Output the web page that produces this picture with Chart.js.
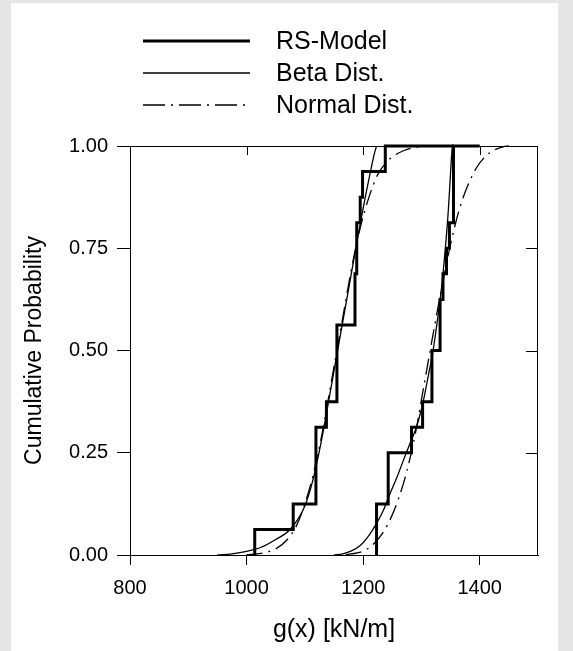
<!DOCTYPE html>
<html>
<head>
<meta charset="utf-8">
<script src="https://cdn.jsdelivr.net/npm/chart.js@4.4.0/dist/chart.umd.min.js"></script>
<style>
  html, body { margin: 0; padding: 0; background: #e6e6e6; }
  .panel { position: absolute; left: 11px; top: 3px; width: 547px; height: 648px; background: #fff; }
  #chart { position: absolute; left: 0; top: 0; }
</style>
</head>
<body>
<div class="panel"></div>
<canvas id="chart" width="573" height="651"></canvas>
<script>
var xTicks = [800, 1000, 1200, 1400];
var yTicks = [0, 0.25, 0.5, 0.75, 1];

// RS-Model empirical CDFs (16 samples each), value after each jump
var rsLeftX = [1014, 1014, 1080, 1119, 1137, 1155, 1186, 1189, 1195, 1199, 1238, 1355];
var rsLeftP = [0, 0.0625, 0.125, 0.3125, 0.375, 0.5625, 0.6875, 0.8125, 0.875, 0.9375, 1, 1];
var rsRightX = [1223, 1223, 1243, 1283, 1302, 1318, 1332, 1337, 1343, 1348, 1355, 1400];
var rsRightP = [0, 0.125, 0.25, 0.3125, 0.375, 0.5, 0.625, 0.6875, 0.75, 0.8125, 1, 1];

// Beta fits
var betaLeftX = [950, 975, 1000, 1025, 1050, 1075, 1100, 1115, 1125, 1135, 1145, 1155, 1165, 1175, 1185, 1195, 1205, 1213, 1219, 1223];
var betaLeftP = [0, 0.003, 0.009, 0.019, 0.038, 0.063, 0.12, 0.19, 0.255, 0.33, 0.41, 0.49, 0.57, 0.65, 0.73, 0.81, 0.885, 0.94, 0.98, 1];
var betaRightX = [1150, 1165, 1180, 1195, 1210, 1222, 1235, 1246, 1258, 1270, 1281, 1292, 1303, 1312, 1320, 1328, 1335, 1341, 1346, 1349, 1351, 1353];
var betaRightP = [0, 0.003, 0.01, 0.023, 0.048, 0.075, 0.11, 0.15, 0.19, 0.235, 0.275, 0.315, 0.375, 0.44, 0.5, 0.58, 0.66, 0.75, 0.84, 0.91, 0.96, 1];

// Normal fits
var normLeftX = [1000, 1025, 1050, 1070, 1085, 1100, 1115, 1130, 1145, 1155, 1165, 1180, 1195, 1210, 1225, 1240, 1255, 1270, 1290, 1310];
var normLeftP = [0.001, 0.004, 0.015, 0.038, 0.07, 0.125, 0.2, 0.3, 0.42, 0.5, 0.58, 0.7, 0.8, 0.875, 0.93, 0.96, 0.978, 0.989, 0.997, 1];
var normRightX = [1170, 1190, 1205, 1220, 1235, 1248, 1260, 1275, 1290, 1305, 1320, 1335, 1350, 1365, 1380, 1395, 1410, 1425, 1440, 1450];
var normRightP = [0.001, 0.005, 0.013, 0.03, 0.057, 0.092, 0.135, 0.205, 0.30, 0.42, 0.54, 0.655, 0.76, 0.845, 0.905, 0.948, 0.975, 0.99, 0.998, 1];

var FONT = "'Liberation Sans', Arial, sans-serif";
var dashDot = [16, 6, 2, 6];

function pts(xs, ps) {
  return xs.map(function (x, i) { return { x: x, y: ps[i] }; });
}

function rsSet(xs, ps) {
  return { data: pts(xs, ps), borderColor: '#000', borderWidth: 3, stepped: true, pointRadius: 0, clip: false };
}
function betaSet(xs, ps) {
  return { data: pts(xs, ps), borderColor: '#000', borderWidth: 1.3, cubicInterpolationMode: 'monotone', pointRadius: 0, clip: false };
}
function normSet(xs, ps) {
  return { data: pts(xs, ps), borderColor: '#000', borderWidth: 1.3, borderDash: dashDot, cubicInterpolationMode: 'monotone', pointRadius: 0, clip: false };
}

var legendItems = [
  { label: 'RS-Model', width: 3, dash: [] },
  { label: 'Beta Dist.', width: 1.3, dash: [] },
  { label: 'Normal Dist.', width: 1.3, dash: [22, 6, 2, 6] }
];

var framePlugin = {
  id: 'frame',
  beforeDatasetsDraw: function (chart) {
    var ctx = chart.ctx, a = chart.chartArea;
    var xs = chart.scales.x, ys = chart.scales.y;
    ctx.save();
    ctx.strokeStyle = '#000';
    ctx.lineWidth = 1;
    ctx.beginPath();
    ctx.moveTo(a.left, a.top + 0.5);
    ctx.lineTo(a.right, a.top + 0.5);
    ctx.moveTo(a.right - 0.5, a.top);
    ctx.lineTo(a.right - 0.5, a.bottom);
    xTicks.forEach(function (v) {
      var px = Math.round(xs.getPixelForValue(v)) + 0.5;
      ctx.moveTo(px, a.top);
      ctx.lineTo(px, a.top + 9);
    });
    yTicks.forEach(function (v) {
      var py = Math.round(ys.getPixelForValue(v)) + 0.5;
      ctx.moveTo(a.right, py);
      ctx.lineTo(a.right - 12, py);
    });
    ctx.stroke();
    ctx.restore();
  },
  afterDraw: function (chart) {
    var ctx = chart.ctx;
    ctx.save();
    ctx.strokeStyle = '#000';
    ctx.fillStyle = '#000';
    ctx.font = '25px ' + FONT;
    ctx.textBaseline = 'middle';
    legendItems.forEach(function (it, i) {
      var y = 41 + i * 32;
      ctx.lineWidth = it.width;
      ctx.setLineDash(it.dash);
      ctx.beginPath();
      ctx.moveTo(143, y);
      ctx.lineTo(250, y);
      ctx.stroke();
      ctx.fillText(it.label, 276, y + 1);
    });
    ctx.restore();
  }
};

new Chart(document.getElementById('chart'), {
  type: 'scatter',
  data: {
    datasets: [
      rsSet(rsLeftX, rsLeftP), rsSet(rsRightX, rsRightP),
      betaSet(betaLeftX, betaLeftP), betaSet(betaRightX, betaRightP),
      normSet(normLeftX, normLeftP), normSet(normRightX, normRightP)
    ].map(function (d) { d.showLine = true; return d; })
  },
  options: {
    responsive: false,
    animation: false,
    devicePixelRatio: 1,
    layout: { padding: { left: 12, top: 146, right: 35, bottom: 0 } },
    plugins: { legend: { display: false }, tooltip: { enabled: false } },
    scales: {
      x: {
        type: 'linear', min: 800, max: 1500,
        afterBuildTicks: function (s) { s.ticks = xTicks.map(function (v) { return { value: v }; }); },
        afterFit: function (s) { s.height = 96; },
        grid: { drawOnChartArea: false, color: '#000', tickLength: 10, tickWidth: 1 },
        border: { color: '#000', width: 1 },
        ticks: { color: '#000', padding: 11, maxRotation: 0, font: { family: FONT, size: 20 },
          callback: function (v) { return String(v); } },
        title: { display: true, text: 'g(x) [kN/m]', color: '#000', font: { family: FONT, size: 25 }, padding: { top: 0, bottom: 6 } }
      },
      y: {
        type: 'linear', min: 0, max: 1,
        afterBuildTicks: function (s) { s.ticks = yTicks.map(function (v) { return { value: v }; }); },
        afterFit: function (s) { s.width = 118; },
        grid: { drawOnChartArea: false, color: '#000', tickLength: 13, tickWidth: 1 },
        border: { color: '#000', width: 1 },
        ticks: { color: '#000', padding: 9, font: { family: FONT, size: 20 },
          callback: function (v) { return v.toFixed(2); } },
        title: { display: true, text: 'Cumulative Probability', color: '#000', font: { family: FONT, size: 23 }, padding: { top: 9, bottom: 0 } }
      }
    }
  },
  plugins: [framePlugin]
});
</script>
</body>
</html>
